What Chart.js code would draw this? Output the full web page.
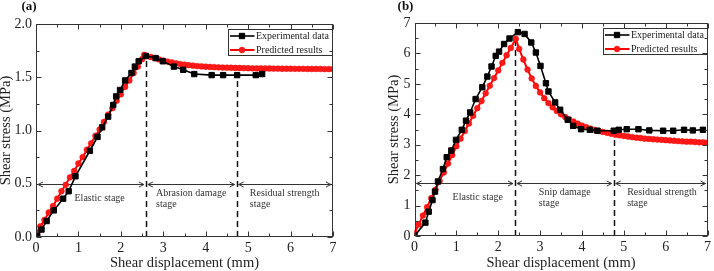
<!DOCTYPE html>
<html>
<head>
<meta charset="utf-8">
<script src="https://cdn.jsdelivr.net/npm/chart.js@4.4.0/dist/chart.umd.min.js"></script>
<style>
  html, body { margin: 0; padding: 0; background: #fff; }
  #wrap { position: relative; width: 714px; height: 271px; }
  canvas { position: absolute; top: 0; }
  #chartA { left: 0; }
  #chartB { left: 357px; }
</style>
</head>
<body>
<div id="wrap">
  <canvas id="chartA" width="357" height="271"></canvas>
  <canvas id="chartB" width="357" height="271"></canvas>
</div>
<script>
// ---- panel (a) ----
var expAX = [0.03,0.13,0.25,0.42,0.64,0.77,0.93,1.27,1.45,1.56,1.70,1.82,1.89,1.98,2.10,2.25,2.33,2.42,2.59,2.82,2.99,3.25,3.47,3.73,4.14,4.41,4.74,5.18,5.33];
var expAY = [0.01,0.07,0.15,0.25,0.36,0.43,0.57,0.81,0.94,1.03,1.13,1.24,1.32,1.38,1.47,1.54,1.60,1.65,1.70,1.68,1.65,1.60,1.57,1.53,1.52,1.52,1.52,1.52,1.53];

var predAX = [0,0.1,0.2,0.3,0.4,0.5,0.6,0.7,0.8,0.9,1.0,1.1,1.2,1.3,1.4,1.5,1.6,1.7,1.8,1.9,2.0,2.1,2.2,2.3,2.4,2.5,2.55,
  2.6,2.7,2.8,2.9,3.0,3.1,3.2,3.3,3.4,3.5,3.6,3.7,3.8,3.9,4.0,4.1,4.2,4.3,4.4,4.5,4.6,4.7,4.8,4.9,5.0,
  5.1,5.2,5.3,5.4,5.5,5.6,5.7,5.8,5.9,6.0,6.1,6.2,6.3,6.4,6.5,6.6,6.7,6.8,6.9,7.0];
var predAY = [0.03,0.10,0.16,0.23,0.29,0.36,0.43,0.49,0.56,0.62,0.69,0.75,0.82,0.88,0.95,1.01,1.08,1.15,1.21,1.28,1.34,1.41,1.47,1.54,1.60,1.67,1.71,
  1.70,1.69,1.68,1.667,1.657,1.647,1.639,1.631,1.624,1.618,1.613,1.609,1.605,1.602,1.599,1.597,1.595,1.593,1.591,1.590,1.589,1.588,1.587,1.586,1.585,
  1.584,1.583,1.583,1.582,1.582,1.581,1.581,1.580,1.580,1.580,1.579,1.579,1.579,1.578,1.578,1.578,1.578,1.577,1.577,1.577];

var stageBoundsA = [2.59, 4.73];
var stageTopsA = [1.70, 1.52];

// ---- panel (b) ----
var expBX = [0,0.26,0.34,0.43,0.49,0.56,0.68,0.77,0.88,0.99,1.13,1.23,1.33,1.46,1.62,1.74,1.84,1.94,2.02,2.14,2.27,2.47,2.63,2.79,2.90,3.01,3.14,3.20,3.36,3.48,3.66,3.79,3.98,4.19,4.37,4.76,4.88,5.07,5.35,5.61,5.94,6.18,6.44,6.65,6.89];
var expBY = [0,0.44,0.80,1.18,1.46,1.79,2.20,2.59,2.81,3.16,3.49,3.79,4.06,4.50,4.89,5.24,5.57,5.92,6.06,6.31,6.49,6.70,6.64,6.36,6.03,5.59,5.02,4.75,4.39,4.15,3.82,3.62,3.51,3.49,3.46,3.46,3.49,3.51,3.51,3.47,3.46,3.46,3.49,3.47,3.49];

var predBX = [0,0.1,0.2,0.3,0.4,0.5,0.6,0.7,0.8,0.9,1.0,1.1,1.2,1.3,1.4,1.5,1.6,1.7,1.8,1.9,2.0,2.1,2.2,2.3,2.42,
  2.5,2.6,2.7,2.8,2.9,3.0,3.1,3.2,3.3,3.4,3.5,3.6,3.7,3.8,3.9,4.0,4.1,4.2,4.3,4.4,4.5,4.6,4.7,4.8,4.9,5.0,
  5.1,5.2,5.3,5.4,5.5,5.6,5.7,5.8,5.9,6.0,6.1,6.2,6.3,6.4,6.5,6.6,6.7,6.8,6.9,7.0];
var predBY = [0.10,0.38,0.67,0.95,1.24,1.52,1.81,2.09,2.38,2.66,2.95,3.20,3.45,3.70,3.95,4.20,4.44,4.69,4.94,5.19,5.44,5.69,5.94,6.18,6.48,
  6.15,5.80,5.47,5.18,4.93,4.72,4.53,4.37,4.23,4.11,4.00,3.91,3.83,3.76,3.69,3.63,3.58,3.53,3.49,3.45,3.42,3.39,3.36,3.33,3.31,3.29,
  3.27,3.25,3.23,3.22,3.20,3.19,3.18,3.17,3.16,3.15,3.14,3.13,3.12,3.11,3.10,3.10,3.09,3.08,3.08,3.07];

var stageBoundsB = [2.40, 4.76];
var stageTopsB = [6.50, 3.46];

var legendNames = ['Experimental data', 'Predicted results'];

var serif = "'Liberation Serif', 'Times New Roman', serif";
var ink = '#222';

function pts(xs, ys) {
  var out = [];
  for (var i = 0; i < xs.length; i++) out.push({x: xs[i], y: ys[i]});
  return out;
}

var framePlugin = {
  id: 'frame',
  beforeDatasetsDraw: function(chart) {
    var o = chart.options.plugins.frame;
    var ctx = chart.ctx, xs = chart.scales.x, ys = chart.scales.y;
    ctx.save();
    // dashed stage boundaries
    ctx.strokeStyle = '#111';
    ctx.lineWidth = 1.5;
    ctx.setLineDash([6, 4]);
    for (var i = 0; i < o.bounds.length; i++) {
      var px = Math.round(xs.getPixelForValue(o.bounds[i])) + 0.5;
      ctx.beginPath();
      ctx.moveTo(px, ys.getPixelForValue(ys.min));
      ctx.lineTo(px, ys.getPixelForValue(o.tops[i]));
      ctx.stroke();
    }
    ctx.setLineDash([]);
    // double arrows
    var ay = Math.round(ys.getPixelForValue(o.arrowY)) + 0.5;
    var edges = [xs.min].concat(o.bounds).concat([xs.max]);
    ctx.strokeStyle = '#333';
    ctx.lineWidth = 1;
    for (var j = 0; j < edges.length - 1; j++) {
      var a = xs.getPixelForValue(edges[j]) + 2;
      var b = xs.getPixelForValue(edges[j + 1]) - 2;
      ctx.beginPath();
      ctx.moveTo(a, ay); ctx.lineTo(b, ay);
      ctx.moveTo(a + 5, ay - 2.5); ctx.lineTo(a, ay); ctx.lineTo(a + 5, ay + 2.5);
      ctx.moveTo(b - 5, ay - 2.5); ctx.lineTo(b, ay); ctx.lineTo(b - 5, ay + 2.5);
      ctx.stroke();
    }
    // stage names
    ctx.fillStyle = '#333';
    ctx.font = '10px ' + serif;
    ctx.textBaseline = 'middle';
    o.labels.forEach(function(l) {
      ctx.textAlign = l.align;
      var x = xs.getPixelForValue(l.x);
      l.lines.forEach(function(t, k) {
        ctx.fillText(t, x, ay + l.dy + k * 11);
      });
    });
    ctx.restore();
  },
  afterDraw: function(chart) {
    var o = chart.options.plugins.frame;
    var ctx = chart.ctx, area = chart.chartArea;
    var xs = chart.scales.x, ys = chart.scales.y;
    ctx.save();
    ctx.strokeStyle = '#333';
    ctx.lineWidth = 1;
    var L = Math.round(area.left) + 0.5, R = Math.round(area.right) - 0.5;
    var T = Math.round(area.top) + 0.5, B = Math.round(area.bottom) - 0.5;
    ctx.strokeRect(L, T, R - L, B - T);

    // inward ticks on all four sides, minor ticks halfway
    function marks(scale, horiz) {
      var t = scale.ticks;
      var list = [];
      for (var i = 0; i < t.length; i++) {
        list.push([t[i].value, 5]);
        if (i < t.length - 1) list.push([(t[i].value + t[i + 1].value) / 2, 3]);
      }
      ctx.beginPath();
      list.forEach(function(m) {
        var p = Math.round(scale.getPixelForValue(m[0])) + 0.5;
        if (horiz) {
          ctx.moveTo(p, B); ctx.lineTo(p, B - m[1]);
          ctx.moveTo(p, T); ctx.lineTo(p, T + m[1]);
        } else {
          ctx.moveTo(L, p); ctx.lineTo(L + m[1], p);
          ctx.moveTo(R, p); ctx.lineTo(R - m[1], p);
        }
      });
      ctx.stroke();
    }
    marks(xs, true);
    marks(ys, false);

    // legend box
    var bw = 104, bh = 26;
    var bx = R - bw, by = T + 5;
    ctx.strokeRect(bx, by, bw, bh);
    ctx.font = '10px ' + serif;
    ctx.textAlign = 'left';
    ctx.textBaseline = 'middle';
    chart.data.datasets.forEach(function(ds, k) {
      var cy = by + 6.5 + k * 14;
      ctx.strokeStyle = ds.borderColor;
      ctx.lineWidth = ds.borderWidth;
      ctx.beginPath(); ctx.moveTo(bx + 1.5, cy); ctx.lineTo(bx + 26, cy); ctx.stroke();
      ctx.fillStyle = ds.pointBackgroundColor;
      ctx.strokeStyle = ds.pointBorderColor;
      ctx.lineWidth = ds.pointBorderWidth;
      Chart.helpers.drawPoint(ctx, {pointStyle: ds.pointStyle, radius: ds.pointRadius, rotation: 0, borderWidth: ds.pointBorderWidth}, bx + 13.5, cy);
      ctx.fillStyle = ink;
      ctx.fillText(ds.label, bx + 27.5, cy + 0.5);
    });

    // panel letter
    ctx.font = 'bold 13px ' + serif;
    ctx.textAlign = 'center';
    ctx.fillStyle = '#111';
    ctx.fillText(o.panel, area.left + o.panelDx, 6.5);
    ctx.restore();
  }
};

function datasets(ex, ey, px, py) {
  return [{
    label: legendNames[0],
    data: pts(ex, ey),
    showLine: true,
    borderColor: '#000',
    borderWidth: 1.6,
    pointStyle: 'rect',
    pointRadius: 3.8,
    pointBorderWidth: 1,
    pointBackgroundColor: '#000',
    pointBorderColor: '#000'
  }, {
    label: legendNames[1],
    data: pts(px, py),
    showLine: true,
    borderColor: '#ff0000',
    borderWidth: 2,
    pointStyle: 'circle',
    pointRadius: 2.9,
    pointBorderWidth: 0.5,
    pointBackgroundColor: '#ff1a1a',
    pointBorderColor: '#ff0000'
  }];
}

function makeOptions(cfg) {
  return {
    responsive: false,
    animation: false,
    devicePixelRatio: 1,
    layout: { padding: cfg.padding },
    plugins: {
      legend: { display: false },
      tooltip: { enabled: false },
      frame: cfg.frame
    },
    scales: {
      x: {
        type: 'linear', min: 0, max: 7,
        grid: { display: false, drawTicks: false },
        border: { display: false },
        ticks: { stepSize: 1, color: ink, padding: 3, maxRotation: 0, font: { family: serif, size: 14 } },
        title: { display: true, text: 'Shear displacement (mm)', color: ink, padding: 0,
                 font: { family: serif, size: 14.5, lineHeight: 1.05 } },
        afterFit: function(s) { s.height = cfg.xHeight; }
      },
      y: {
        type: 'linear', min: 0, max: cfg.yMax,
        grid: { display: false, drawTicks: false },
        border: { display: false },
        ticks: { stepSize: cfg.yStep, color: ink, padding: 4, font: { family: serif, size: 14 },
                 callback: cfg.yFormat },
        title: { display: true, text: 'Shear stress (MPa)', color: ink, padding: 0,
                 font: { family: serif, size: 14.5, lineHeight: 0.85 } },
        afterFit: function(s) { s.width = cfg.yWidth; }
      }
    }
  };
}

new Chart(document.getElementById('chartA'), {
  type: 'scatter',
  data: { datasets: datasets(expAX, expAY, predAX, predAY) },
  options: makeOptions({
    padding: { left: 0, right: 24, top: 24, bottom: 0 },
    xHeight: 34, yWidth: 36, yMax: 2, yStep: 0.5,
    yFormat: function(v) { return v.toFixed(1); },
    frame: {
      bounds: stageBoundsA, tops: stageTopsA, arrowY: 0.5,
      panel: '(a)', panelDx: -7,
      labels: [
        { x: 1.50, align: 'center', dy: 14, lines: ['Elastic stage'] },
        { x: 2.83, align: 'left', dy: 9, lines: ['Abrasion damage', 'stage'] },
        { x: 5.04, align: 'left', dy: 9, lines: ['Residual strength', 'stage'] }
      ]
    }
  }),
  plugins: [framePlugin]
});

new Chart(document.getElementById('chartB'), {
  type: 'scatter',
  data: { datasets: datasets(expBX, expBY, predBX, predBY) },
  options: makeOptions({
    padding: { left: 31.5, right: 4, top: 23, bottom: 0 },
    xHeight: 35, yWidth: 26, yMax: 7, yStep: 1,
    yFormat: function(v) { return String(v); },
    frame: {
      bounds: stageBoundsB, tops: stageTopsB, arrowY: 1.75,
      panel: '(b)', panelDx: -9,
      labels: [
        { x: 1.51, align: 'center', dy: 14, lines: ['Elastic stage'] },
        { x: 2.97, align: 'left', dy: 9, lines: ['Snip damage', 'stage'] },
        { x: 5.08, align: 'left', dy: 9, lines: ['Residual strength', 'stage'] }
      ]
    }
  }),
  plugins: [framePlugin]
});
</script>
</body>
</html>
